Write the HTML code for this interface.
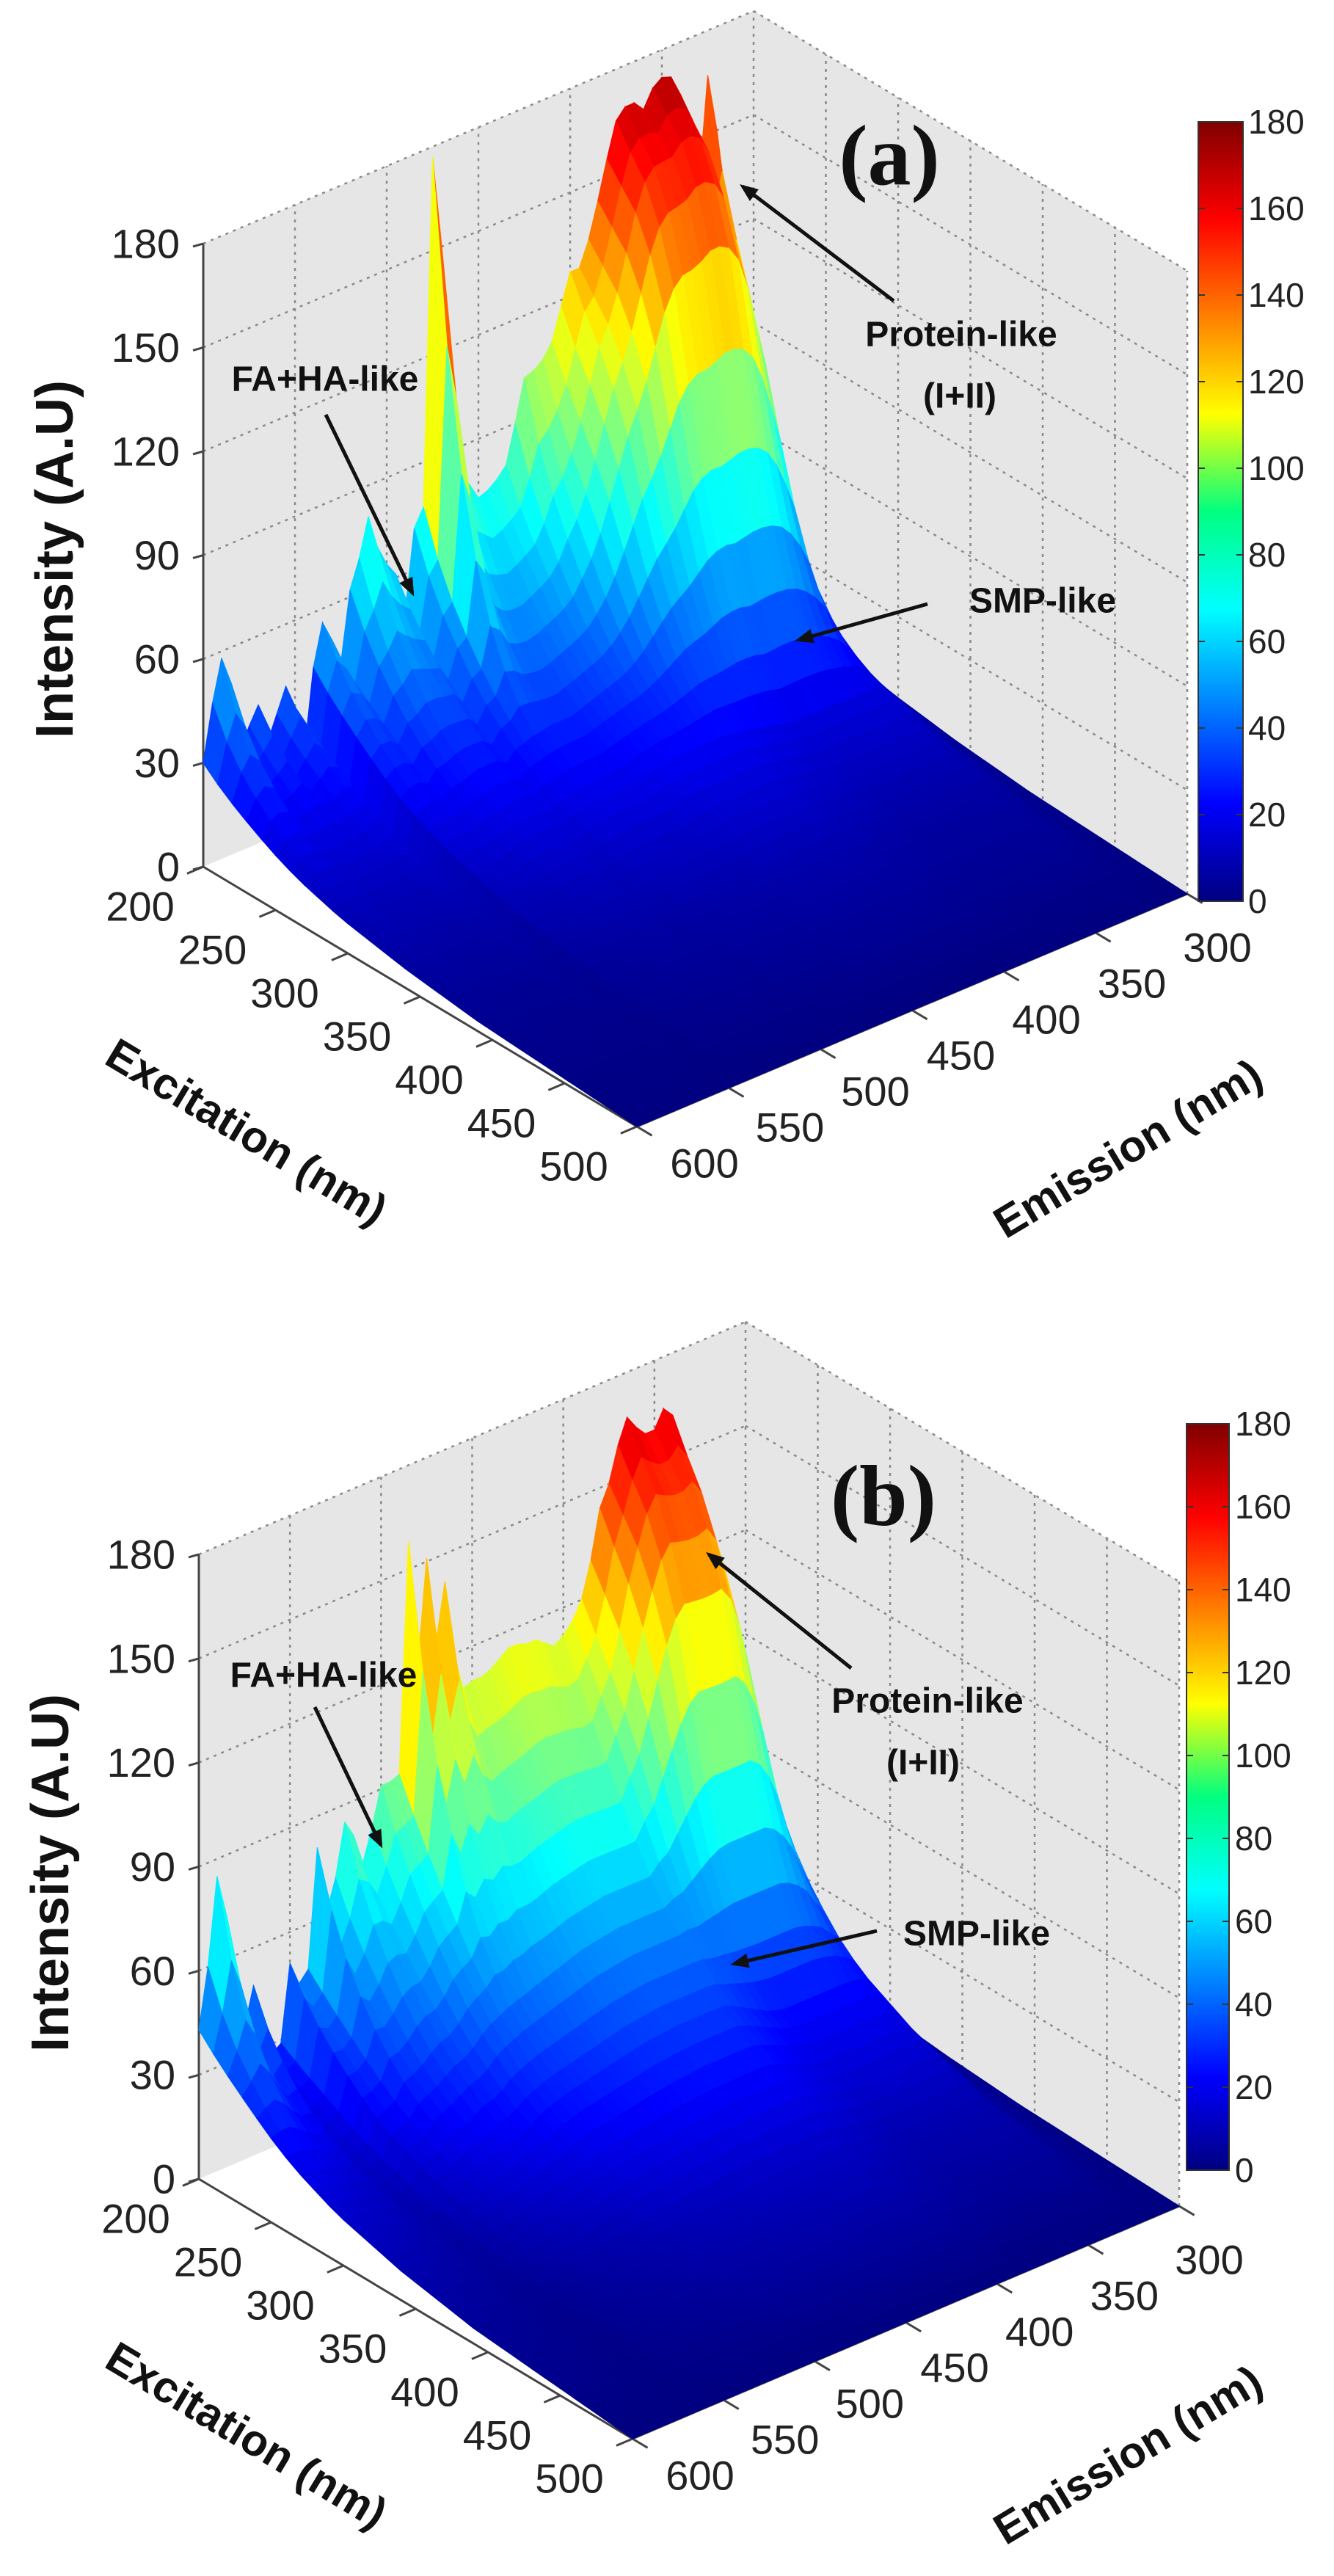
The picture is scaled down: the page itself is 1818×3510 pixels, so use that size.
<!DOCTYPE html>
<html><head><meta charset="utf-8"><title>EEM 3D surfaces</title>
<style>
html,body{margin:0;padding:0;background:#fff;}
svg{display:block;}
.tk{font-family:"Liberation Sans",sans-serif;font-size:56px;fill:#222;}
.cb{font-family:"Liberation Sans",sans-serif;font-size:46px;fill:#222;}
.ttl{font-family:"Liberation Sans",sans-serif;font-weight:bold;font-size:60px;fill:#111;}
.zt{font-family:"Liberation Sans Narrow","Liberation Sans",sans-serif;font-weight:bold;font-size:72px;fill:#111;}
.ann{font-family:"Liberation Sans",sans-serif;font-weight:bold;font-size:48px;fill:#111;}
.pl{font-family:"Liberation Serif",serif;font-weight:bold;font-size:118px;fill:#111;}
</style></head>
<body>
<svg id="fig" xmlns="http://www.w3.org/2000/svg" width="1818" height="3510" viewBox="0 0 1818 3510">
<defs>
<linearGradient id="jetg" x1="0" y1="1" x2="0" y2="0">
<stop offset="0" stop-color="rgb(0,0,128)"/><stop offset="0.125" stop-color="rgb(0,0,255)"/>
<stop offset="0.375" stop-color="rgb(0,255,255)"/><stop offset="0.5" stop-color="rgb(0,255,128)"/>
<stop offset="0.625" stop-color="rgb(255,255,0)"/><stop offset="0.875" stop-color="rgb(255,0,0)"/>
<stop offset="1" stop-color="rgb(128,0,0)"/></linearGradient>
<marker id="ah" viewBox="0 0 10 10" refX="8" refY="5" markerWidth="5" markerHeight="5" orient="auto"><path d="M0,1 L10,5 L0,9 z" fill="#111"/></marker>
</defs>
</svg>
<script>
// ---- data ----
const emGrid = [300,305,310,315,320,325,330,335,340,345,350,355,360,365,370,375,380,385,390,395,400,405,410,415,420,425,430,435,440,445,450,455,460,465,470,475,480,485,490,495,500,505,510,515,520,525,530,535,540,545,550,555,560,565,570,575,580,585,590,595,600];
const exGrid = [200,210,220,230,240,250,260,270,280,290,300,310,320,330,340,350,360,370,380,390,400,410,420,430,440,450,460,470,480,490,500];
// panel (a): total intensity along excitation 200 nm (silhouette)
const ridgeA = [30,35,60,120,150,167,128,139,165,171, 172,170,150,168,168,165,155,141,134,127, 127,118,109,105,103,102,90,79,76,74, 73,78,82,95,150,177,77,72,49,61, 65,71,81,70,62,42,50,56,44,20, 35,42,35,28,40,35,29,50,58,46, 30];
// smooth background body
const bodyA = [20,25,40,50,55,55,55,55,55,55, 55,55,55,55,58,60,62,64,66,68, 70,70,70,70,70,70,70,68,66,64, 62,60,60,60,59,58,56,54,48,52, 52,52,50,48,47,42,44,43,40,20, 32,32,30,28,30,28,28,30,30,30, 26];
// protein peak component
const peakA = [0,0,0,10,30,60,80,95,105,110, 112,112,110,108,105,100,92,80,68,58, 48,38,28,18,10,4,0,0,0,0, 0,0,0,0,0,0,0,0,0,0, 0,0,0,0,0,0,0,0,0,0, 0,0,0,0,0,0,0,0,0,0, 0];
const slowA = [1,0.92,0.84,0.76,0.68,0.6,0.53,0.47,0.42,0.37,0.33,0.3,0.27,0.24,0.21,0.19,0.17,0.15,0.13,0.11,0.1,0.09,0.08,0.07,0.06,0.05,0.04,0.03,0.02,0.01,0];
const fastA = [1,0.6,0.35,0.2,0.1,0.05,0.02,0,0,0,0,0,0,0,0,0,0,0,0,0,0,0,0,0,0,0,0,0,0,0,0];
const peakExA = [1,1,1,0.95,0.85,0.65,0.45,0.3,0.18,0.1,0.05,0,0,0,0,0,0,0,0,0,0,0,0,0,0,0,0,0,0,0,0];
// panel (b)
const ridgeB = [17,25,40,49,100,115,138,150,162,165,160,160,163,167,160,150,144,128,116,114,112,110,112,114,114,115,115,113,111,110,110,109,120,142,125,151,120,158,92,91,91,80,71,80,85,70,61,81,47,44,51,29,27,25,49,38,53,73,85,60,43];
const bodyB = [15,22,35,45,75,78,80,80,80,80, 80,80,80,80,82,85,90,95,100,105, 108,108,108,108,108,108,107,106,105,104, 102,100,98,96,94,92,90,88,85,82, 78,72,68,66,62,58,55,52,45,42, 40,28,26,24,30,32,34,36,38,40, 40];
const peakB = [0,0,0,0,15,30,50,65,75,80, 80,80,80,80,75,65,50,35,20,10, 0,0,0,0,0,0,0,0,0,0, 0,0,0,0,0,0,0,0,0,0, 0,0,0,0,0,0,0,0,0,0, 0,0,0,0,0,0,0,0,0,0, 0];
const slowB = [1,0.92,0.84,0.76,0.68,0.6,0.53,0.47,0.42,0.37,0.33,0.3,0.27,0.24,0.21,0.19,0.17,0.15,0.13,0.11,0.1,0.09,0.08,0.07,0.06,0.05,0.04,0.03,0.02,0.01,0];
const fastB = [1,0.6,0.35,0.2,0.1,0.05,0.02,0,0,0,0,0,0,0,0,0,0,0,0,0,0,0,0,0,0,0,0,0,0,0,0];
const peakExB = [1,1,1,0.95,0.85,0.65,0.45,0.3,0.18,0.1,0.05,0,0,0,0,0,0,0,0,0,0,0,0,0,0,0,0,0,0,0,0];
const zTicks = [0,30,60,90,120,150,180];
const exTicks = [200,250,300,350,400,450,500];
const emTicks = [600,550,500,450,400,350,300];
const cbTicks = [0,20,40,60,80,100,120,140,160,180];

const NS='http://www.w3.org/2000/svg';
const svg=document.getElementById('fig');
function mk(tag,parent){const e=document.createElementNS(NS,tag);parent.appendChild(e);return e;}
function jet(t){t=Math.max(0,Math.min(1,t));const f=x=>Math.round(255*Math.max(0,Math.min(1,1.5-Math.abs(4*t-x))));return 'rgb('+f(3)+','+f(2)+','+f(1)+')';}

const panels=[
 {id:'a',ridge:ridgeA,body:bodyA,peak:peakA,slow:slowA,fast:fastA,pex:peakExA,L:[277,1181],exV:[591,354],emV:[750,-317],zs:4.717,
  cb:{x:1633,y0:1228,y1:166,w:61,lx:1701},
  label:{t:'(a)',x:1212,y:250},
  prot:{x:1310,y:478,tx:1308,ty:562,a:[1218,410,1012,254]},
  fa:{x:443,y:537,a:[444,565,562,808]},
  smp:{x:1421,y:839,a:[1264,823,1088,872]},
  exL:[-86,54],emL0:[92,50],emL1:[41,73],
  zt:[75,762],ext:[336,1542],emt:[1537,1565]},
 {id:'b',ridge:ridgeB,body:bodyB,peak:peakB,slow:slowB,fast:fastB,pex:peakExB,L:[271,2969],exV:[591,354],emV:[745,-317],zs:4.728,
  cb:{x:1617,y0:2957,y1:1940,w:58,lx:1683},
  label:{t:'(b)',x:1204,y:2076},
  prot:{x:1264,y:2340,tx:1258,ty:2424,a:[1160,2273,966,2118]},
  fa:{x:441,y:2303,a:[429,2326,519,2514]},
  smp:{x:1331,y:2655,a:[1195,2631,1000,2676]},
  exL:[-86,54],emL0:[92,50],emL1:[41,73],
  zt:[69,2552],ext:[336,3318],emt:[1537,3345]}
];

panels.forEach(p=>{
 const g=mk('g',svg);
 
 
 const P=(ex,em,z)=>[p.L[0]+(ex-200)/300*p.exV[0]+(600-em)/300*p.emV[0], p.L[1]+(ex-200)/300*p.exV[1]+(600-em)/300*p.emV[1]-z*p.zs];
 const pts=a=>a.map(q=>q[0].toFixed(1)+','+q[1].toFixed(1)).join(' ');
 const lw=mk('polygon',g);
 
 
 lw.setAttribute('points',pts([P(200,600,0),P(200,300,0),P(200,300,180),P(200,600,180)]));
 lw.setAttribute('fill','#e6e6e6');
 const rw=mk('polygon',g);
 
 
 rw.setAttribute('points',pts([P(200,300,0),P(500,300,0),P(500,300,180),P(200,300,180)]));
 rw.setAttribute('fill','#e6e6e6');
 const gg=mk('g',g);
 
 
 gg.setAttribute('stroke','#8a8a8a');gg.setAttribute('stroke-width','2.5');gg.setAttribute('stroke-dasharray','4 7');gg.setAttribute('fill','none');
 const line=(par,a,b)=>{const l=mk('line',par);l.setAttribute('x1',a[0]);l.setAttribute('y1',a[1]);l.setAttribute('x2',b[0]);l.setAttribute('y2',b[1]);return l;};
 zTicks.forEach(z=>{if(z>0){line(gg,P(200,600,z),P(200,300,z));} line(gg,P(200,300,z),P(500,300,z));});
 emTicks.forEach(em=>{if(em<600){line(gg,P(200,em,0),P(200,em,180));}});
 exTicks.forEach(ex=>{if(ex>200){line(gg,P(ex,300,0),P(ex,300,180));}});
 const ax=mk('g',g);
 
 
 ax.setAttribute('stroke','#444');ax.setAttribute('stroke-width','3');
 line(ax,P(200,600,0),P(200,600,180));
 line(ax,P(200,600,0),P(500,600,0));
 line(ax,P(500,600,0),P(500,300,0));
 zTicks.forEach(z=>{const q=P(200,600,z);line(ax,[q[0]-14,q[1]+4],q);});
 const emLen=Math.hypot(p.emV[0],p.emV[1]),exLen=Math.hypot(p.exV[0],p.exV[1]);
 exTicks.forEach(ex=>{const q=P(ex,600,0);line(ax,q,[q[0]-p.emV[0]/emLen*24,q[1]-p.emV[1]/emLen*24]);});
 emTicks.forEach(em=>{const q=P(500,em,0);line(ax,q,[q[0]+p.exV[0]/exLen*24,q[1]+p.exV[1]/exLen*24]);});
 const sg=mk('g',g);
 
 
 const quads=[];
 for(let i=0;i<exGrid.length-1;i++){for(let j=0;j<emGrid.length-1;j++){quads.push([i,j]);}}
 quads.sort((u,v)=>(u[0]/(exGrid.length-1)+u[1]/(emGrid.length-1))-(v[0]/(exGrid.length-1)+v[1]/(emGrid.length-1)));
 const Z=(i,j)=>p.body[j]*p.slow[i]+p.peak[j]*p.pex[i]+Math.max(0,p.ridge[j]-p.body[j]-p.peak[j])*p.fast[i];
 quads.forEach(([i,j])=>{
  const c=[[i,j],[i+1,j],[i+1,j+1],[i,j+1]];
  const zz=c.map(([a,b])=>Z(a,b));
  const qs=c.map(([a,b],k)=>P(exGrid[a],emGrid[b],zz[k]));
  const col=jet((zz[0]+zz[1]+zz[2]+zz[3])/4/180);
  const pl=mk('polygon',sg);
  
  
  pl.setAttribute('points',pts(qs));
  pl.setAttribute('fill',col);pl.setAttribute('stroke',col);pl.setAttribute('stroke-width','1.2');
 });
 const tx=(par,s,x,y,cls,anchor,name)=>{const t=mk('text',par);t.setAttribute('x',x);t.setAttribute('y',y);t.setAttribute('class',cls);t.setAttribute('text-anchor',anchor||'middle');t.setAttribute('dominant-baseline','central');t.textContent=s;return t;};
 zTicks.forEach(z=>{const q=P(200,600,z);tx(g,String(z),q[0]-32,q[1],'tk','end','z-tick-label');});
 exTicks.forEach(ex=>{const q=P(ex,600,0);tx(g,String(ex),q[0]+p.exL[0],q[1]+p.exL[1],'tk','middle','excitation-tick-label');});
 emTicks.forEach(em=>{const q=P(500,em,0);const f=(600-em)/300;tx(g,String(em),q[0]+p.emL0[0]+(p.emL1[0]-p.emL0[0])*f,q[1]+p.emL0[1]+(p.emL1[1]-p.emL0[1])*f,'tk','middle','emission-tick-label');});
 const t1=tx(g,'Intensity (A.U)',p.zt[0],p.zt[1],'zt','middle','z-axis-title');
 t1.setAttribute('transform','rotate(-90 '+p.zt[0]+' '+p.zt[1]+')');
 const t2=tx(g,'Excitation (nm)',p.ext[0],p.ext[1],'ttl','middle','excitation-axis-title');
 t2.setAttribute('transform','rotate(31 '+p.ext[0]+' '+p.ext[1]+')');
 const t3=tx(g,'Emission (nm)',p.emt[0],p.emt[1],'ttl','middle','emission-axis-title');
 t3.setAttribute('transform','rotate(-31 '+p.emt[0]+' '+p.emt[1]+')');
 const cbr=mk('rect',g);
 
 
 cbr.setAttribute('x',p.cb.x);cbr.setAttribute('y',p.cb.y1);cbr.setAttribute('width',p.cb.w);cbr.setAttribute('height',p.cb.y0-p.cb.y1);
 cbr.setAttribute('fill','url(#jetg)');cbr.setAttribute('stroke','#333');cbr.setAttribute('stroke-width','2');
 const cby=v=>p.cb.y0-(v/180)*(p.cb.y0-p.cb.y1);
 const cbt=mk('g',g);
 
 
 cbt.setAttribute('stroke','#333');cbt.setAttribute('stroke-width','2');
 cbTicks.forEach(v=>{const y=cby(v);line(cbt,[p.cb.x,y],[p.cb.x+9,y]);line(cbt,[p.cb.x+p.cb.w-9,y],[p.cb.x+p.cb.w,y]);tx(g,String(v),p.cb.lx,y,'cb','start','colorbar-label');});
 tx(g,p.label.t,p.label.x,p.label.y-38,'pl','middle','panel-label');
 tx(g,'Protein-like',p.prot.x,p.prot.y-22,'ann','middle','protein-like-label');
 tx(g,'(I+II)',p.prot.tx,p.prot.ty-22,'ann','middle','protein-like-sub-label');
 tx(g,'FA+HA-like',p.fa.x,p.fa.y-20,'ann','middle','fa-ha-like-label');
 tx(g,'SMP-like',p.smp.x,p.smp.y-20,'ann','middle','smp-like-label');
 [['protein-arrow',p.prot.a],['fa-ha-arrow',p.fa.a],['smp-arrow',p.smp.a]].forEach(([nm,a])=>{
  const l=mk('line',g);
  
  
  l.setAttribute('x1',a[0]);l.setAttribute('y1',a[1]);l.setAttribute('x2',a[2]);l.setAttribute('y2',a[3]);
  l.setAttribute('stroke','#111');l.setAttribute('stroke-width','5');l.setAttribute('marker-end','url(#ah)');
 });
});
</script>
</body></html>
